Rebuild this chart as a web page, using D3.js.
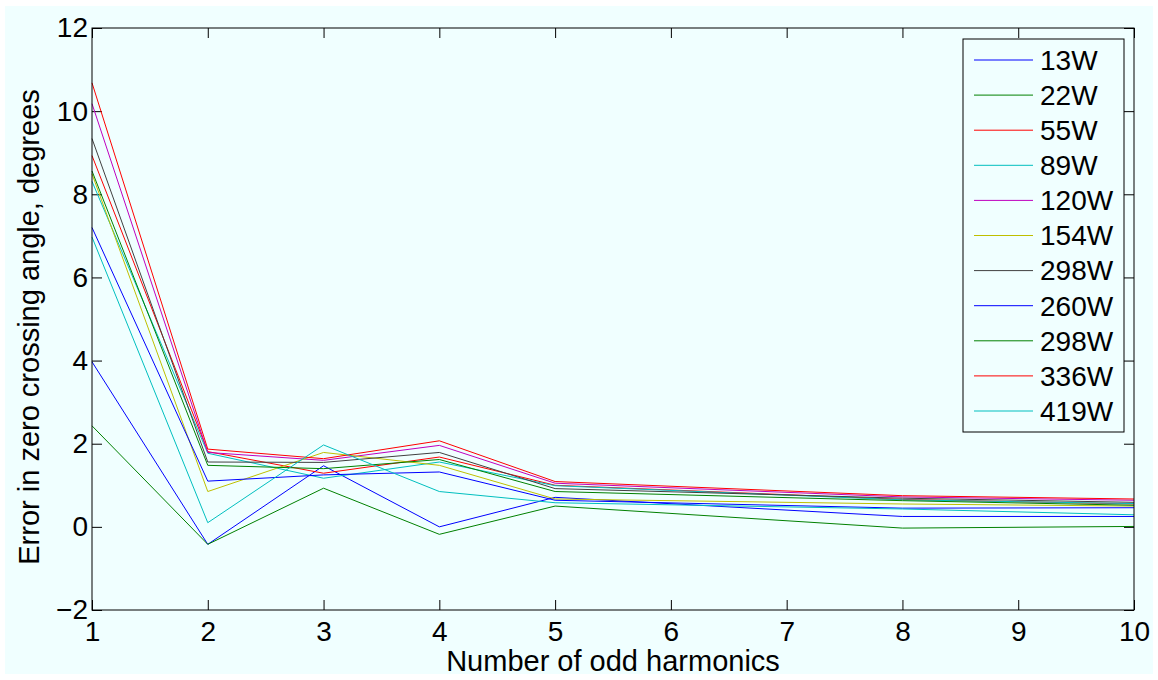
<!DOCTYPE html>
<html>
<head>
<meta charset="utf-8">
<script src="https://cdn.jsdelivr.net/npm/d3@7"></script>
<style>
  body { margin: 0; background: #ffffff; }
  svg { display: block; font-family: "Liberation Sans", Arial, sans-serif; }
</style>
</head>
<body>
<svg id="chart"></svg>
<script>
// number of odd harmonics where each curve was sampled
const HARMONICS = [1, 2, 3, 4, 5, 8, 10];

const SERIES_NAMES = ["13W", "22W", "55W", "89W", "120W", "154W", "298W", "260W", "298W", "336W", "419W"];

// MATLAB default colour order, repeated
const SERIES_COLORS = ["#0000ff", "#008000", "#ff0000", "#00bfbf", "#bf00bf", "#bfbf00", "#404040",
                       "#0000ff", "#008000", "#ff0000", "#00bfbf"];

// error in zero crossing angle (degrees), one array per series
const W13  = [3.97, -0.42, 1.47, 0.00, 0.71, 0.25, 0.25];
const W22  = [2.43, -0.42, 0.93, -0.18, 0.50, -0.03, 0.01];
const W55  = [8.93, 1.81, 1.29, 1.68, 1.00, 0.66, 0.55];
const W89  = [8.31, 1.77, 1.17, 1.56, 0.99, 0.65, 0.56];
const W120 = [10.18, 1.79, 1.60, 1.96, 1.05, 0.72, 0.64];
const W154 = [8.49, 0.85, 1.79, 1.48, 0.67, 0.55, 0.50];
const W298K = [9.34, 1.56, 1.55, 1.79, 0.92, 0.69, 0.59];
const W260 = [7.20, 1.10, 1.25, 1.32, 0.64, 0.45, 0.46];
const W298G = [8.56, 1.48, 1.40, 1.62, 0.85, 0.63, 0.52];
const W336 = [10.68, 1.87, 1.64, 2.07, 1.09, 0.75, 0.67];
const W419 = [6.97, 0.10, 1.97, 0.85, 0.58, 0.43, 0.29];

const SERIES_VALUES = [W13, W22, W55, W89, W120, W154, W298K, W260, W298G, W336, W419];

const X_TICKS = [1, 2, 3, 4, 5, 6, 7, 8, 9, 10];
const Y_TICKS = [-2, 0, 2, 4, 6, 8, 10, 12];

const WIDTH = 1158;
const HEIGHT = 680;
const PLOT = { left: 92, right: 1134, top: 28, bottom: 610 };
const FONT = 28;
const LABEL_FONT = 29;

let svg = d3.select("#chart")
    .attr("width", WIDTH)
    .attr("height", HEIGHT);

// figure background
svg.append("rect")
    .attr("x", 5).attr("y", 6)
    .attr("width", WIDTH - 10).attr("height", HEIGHT - 12)
    .attr("fill", "#f0ffff");

let xScale = d3.scaleLinear().domain([1, 10]).range([PLOT.left, PLOT.right]);
let yScale = d3.scaleLinear().domain([-2, 12]).range([PLOT.bottom, PLOT.top]);

function fmt(d) {
    return d < 0 ? "\u2212" + Math.abs(d) : String(d);
}

function styleAxis(g) {
    g.select(".domain").remove();
    g.selectAll(".tick line").attr("stroke", "#000").attr("stroke-width", 1);
    g.selectAll(".tick text")
        .attr("fill", "#000")
        .attr("font-size", FONT)
        .attr("font-family", "Liberation Sans, Arial, sans-serif");
}

// axes with ticks pointing inward
svg.append("g")
    .attr("transform", "translate(0," + PLOT.bottom + ")")
    .call(d3.axisBottom(xScale).tickValues(X_TICKS).tickSize(-10).tickPadding(11).tickFormat(fmt))
    .call(styleAxis);

svg.append("g")
    .attr("transform", "translate(0," + PLOT.top + ")")
    .call(d3.axisTop(xScale).tickValues(X_TICKS).tickSize(-10).tickFormat(""))
    .call(styleAxis);

svg.append("g")
    .attr("transform", "translate(" + PLOT.left + ",0)")
    .call(d3.axisLeft(yScale).tickValues(Y_TICKS).tickSize(-10).tickPadding(4).tickFormat(fmt))
    .call(styleAxis);

svg.append("g")
    .attr("transform", "translate(" + PLOT.right + ",0)")
    .call(d3.axisRight(yScale).tickValues(Y_TICKS).tickSize(-10).tickFormat(""))
    .call(styleAxis);

// curves
let line = d3.line()
    .x(function (d, i) { return xScale(HARMONICS[i]); })
    .y(function (d) { return yScale(d); });

svg.append("g")
    .selectAll("path")
    .data(SERIES_VALUES)
    .enter()
    .append("path")
    .attr("d", line)
    .attr("fill", "none")
    .attr("stroke", function (d, i) { return SERIES_COLORS[i]; })
    .attr("stroke-width", 1);

// axes box
svg.append("rect")
    .attr("x", PLOT.left).attr("y", PLOT.top)
    .attr("width", PLOT.right - PLOT.left).attr("height", PLOT.bottom - PLOT.top)
    .attr("fill", "none")
    .attr("stroke", "#000")
    .attr("stroke-width", 1);

// axis labels
svg.append("text")
    .attr("x", (PLOT.left + PLOT.right) / 2)
    .attr("y", 671)
    .attr("text-anchor", "middle")
    .attr("font-size", LABEL_FONT)
    .text("Number of odd harmonics");

svg.append("text")
    .attr("transform", "translate(39,327) rotate(-90)")
    .attr("text-anchor", "middle")
    .attr("font-size", LABEL_FONT)
    .text("Error in zero crossing angle, degrees");

// legend
const LEG = { x: 963, y: 39, w: 161, h: 393, row: 35.1 };

let legend = svg.append("g");
legend.append("rect")
    .attr("x", LEG.x).attr("y", LEG.y)
    .attr("width", LEG.w).attr("height", LEG.h)
    .attr("fill", "#f0ffff")
    .attr("stroke", "#000")
    .attr("stroke-width", 1);

let items = legend.selectAll("g.item")
    .data(SERIES_NAMES)
    .enter()
    .append("g")
    .attr("class", "item")
    .attr("transform", function (d, i) { return "translate(0," + (LEG.y + 21 + i * LEG.row) + ")"; });

items.append("line")
    .attr("x1", 974).attr("x2", 1033)
    .attr("y1", 0).attr("y2", 0)
    .attr("stroke", function (d, i) { return SERIES_COLORS[i]; })
    .attr("stroke-width", 1);

items.append("text")
    .attr("x", 1040)
    .attr("y", 0)
    .attr("dy", "0.35em")
    .attr("font-size", FONT)
    .text(function (d) { return d; });
</script>
</body>
</html>
